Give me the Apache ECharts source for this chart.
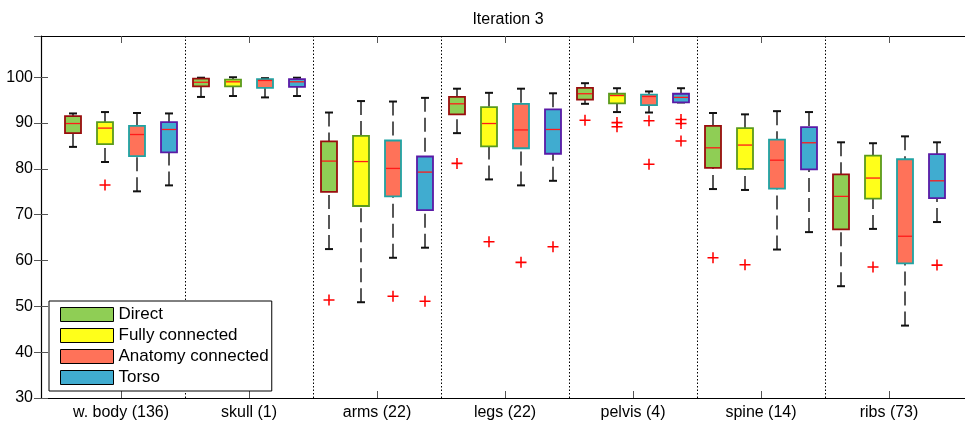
<!DOCTYPE html>
<html>
<head>
<meta charset="utf-8">
<script src="https://cdn.jsdelivr.net/npm/echarts@6/dist/echarts.min.js"></script>
<style>html,body{margin:0;padding:0;background:#fff}#c{width:965px;height:423px}</style>
</head>
<body>
<div id="c"></div>
<script>
const groups = ['w. body (136)', 'skull (1)', 'arms (22)', 'legs (22)', 'pelvis (4)', 'spine (14)', 'ribs (73)'];
const methods = ['Direct', 'Fully connected', 'Anatomy connected', 'Torso'];
const yTicks = { min: 30, max: 109, step: 10 };

// [lower whisker, Q1, median, Q3, upper whisker] per group
const directStats = [
  [84.8, 87.8, 89.9, 91.5, 92.1],
  [95.7, 98.0, 98.9, 99.7, 99.9],
  [62.5, 75.0, 81.7, 86.0, 92.3],
  [87.8, 91.9, 94.2, 95.7, 97.5],
  [94.2, 95.1, 96.4, 97.7, 98.7],
  [75.6, 80.2, 84.6, 89.4, 92.2],
  [54.4, 66.8, 74.0, 78.8, 85.8]
];
const fullyStats = [
  [81.5, 85.4, 88.9, 90.2, 92.4],
  [95.9, 98.0, 99.0, 99.5, 100.0],
  [50.9, 71.9, 81.6, 87.2, 94.8],
  [77.7, 84.9, 89.9, 93.5, 96.6],
  [92.4, 94.3, 96.0, 96.4, 97.6],
  [75.4, 80.0, 85.2, 88.9, 91.9],
  [66.9, 73.5, 78.0, 82.9, 85.6]
];
const anatomyStats = [
  [75.1, 82.8, 87.5, 89.4, 92.2],
  [95.6, 97.7, 99.3, 99.6, 99.8],
  [60.6, 74.0, 80.1, 86.2, 94.7],
  [76.4, 84.5, 88.5, 94.2, 97.5],
  [92.3, 93.9, 95.8, 96.2, 96.9],
  [62.4, 75.7, 81.9, 86.4, 92.6],
  [45.8, 59.4, 65.3, 82.1, 87.1]
];
const torsoStats = [
  [76.4, 83.6, 88.6, 90.2, 92.1],
  [95.9, 97.9, 99.0, 99.6, 99.9],
  [62.8, 71.0, 79.3, 82.7, 95.5],
  [77.4, 83.3, 88.6, 93.0, 96.5],
  [94.5, 94.5, 95.6, 96.4, 97.6],
  [66.2, 79.9, 85.7, 89.1, 92.4],
  [68.4, 73.6, 77.4, 83.2, 85.8]
];

// outliers: [group index, value]
const directOut = [[2, 51.4], [3, 81.2], [4, 90.6], [5, 60.6]];
const fullyOut = [[0, 76.5], [3, 64.1], [4, 90.1], [4, 89.2], [5, 59.1], [6, 58.6]];
const anatomyOut = [[2, 52.2], [3, 59.6], [4, 90.5], [4, 81.0]];
const torsoOut = [[2, 51.1], [3, 63.0], [4, 90.8], [4, 89.9], [4, 86.1], [6, 59.0]];

const fills = ['#8fce55', '#ffff1a', '#ff7259', '#40acd0'];
const borders = ['#990d0d', '#5a9a1c', '#1fa3a3', '#5a1aa6'];

const allStats = [directStats, fullyStats, anatomyStats, torsoStats];
const allOut = [directOut, fullyOut, anatomyOut, torsoOut];
const perGroup = methods.length;
const pos = (g, m) => 1 + perGroup * g + m;

function makeRender(m) {
  return function (params, api) {
    const x = api.value(0);
    const c = v => api.coord([x, v]);
    const cx = c(api.value(1))[0];
    const yLo = c(api.value(1))[1], yQ1 = c(api.value(2))[1], yMd = c(api.value(3))[1],
          yQ3 = c(api.value(4))[1], yHi = c(api.value(5))[1];
    const hw = api.size([1, 0])[0] * 0.25;
    const dash = { stroke: '#111', lineWidth: 1.4, lineDash: [14, 6] };
    const cap = { stroke: '#111', lineWidth: 2 };
    return {
      type: 'group',
      children: [
        { type: 'line', shape: { x1: cx, y1: yHi, x2: cx, y2: yQ3 }, style: dash },
        { type: 'line', shape: { x1: cx, y1: yLo, x2: cx, y2: yQ1 }, style: dash },
        { type: 'line', shape: { x1: cx - hw / 2, y1: yHi, x2: cx + hw / 2, y2: yHi }, style: cap },
        { type: 'line', shape: { x1: cx - hw / 2, y1: yLo, x2: cx + hw / 2, y2: yLo }, style: cap },
        { type: 'rect', shape: { x: cx - hw, y: yQ3, width: 2 * hw, height: yQ1 - yQ3 },
          style: { fill: fills[m], stroke: borders[m], lineWidth: 1.8 } },
        { type: 'line', shape: { x1: cx - hw + 1, y1: yMd, x2: cx + hw - 1, y2: yMd },
          style: { stroke: '#ff1a1a', lineWidth: 1.3 } }
      ]
    };
  };
}

const series = [];
methods.forEach((name, m) => {
  const s = {
    name: name,
    type: 'custom',
    xAxisIndex: 0, yAxisIndex: 0,
    itemStyle: { color: fills[m] },
    renderItem: makeRender(m),
    encode: { x: 0, y: [1, 2, 3, 4, 5] },
    data: allStats[m].map((st, g) => [pos(g, m)].concat(st)),
    z: 3
  };
  if (m === 0) {
    s.markLine = {
      silent: true, symbol: 'none', animation: false,
      label: { show: false },
      lineStyle: { color: '#000', width: 1, type: [1.5, 2] },
      data: groups.slice(1).map((_, i) => ({ xAxis: perGroup * (i + 1) + 0.5 }))
    };
  }
  series.push(s);
});
methods.forEach((name, m) => {
  series.push({
    name: name + ' outliers',
    type: 'scatter',
    xAxisIndex: 0, yAxisIndex: 0,
    symbol: 'path://M0,4.3H10V5.7H0ZM4.3,0H5.7V10H4.3Z',
    symbolSize: 11,
    itemStyle: { color: '#ff0000', opacity: 1 },
    data: allOut[m].map(o => [pos(o[0], m), o[1]]),
    z: 4
  });
});

const font = "'Liberation Sans', Arial, Helvetica, sans-serif";
const tickStyle = { color: '#555', width: 1 };
const frame = { show: true, lineStyle: { color: '#000', width: 1.2 } };

const option = {
  animation: false,
  backgroundColor: '#fff',
  textStyle: { fontFamily: font },
  title: {
    text: 'Iteration 3', left: 503, top: 7, textAlign: 'center',
    textStyle: { fontSize: 16, fontWeight: 'normal', color: '#000', fontFamily: font }
  },
  legend: {
    data: methods,
    orient: 'vertical', left: 49, top: 301,
    backgroundColor: '#fff', borderColor: '#000', borderWidth: 1,
    padding: [5, 3, 5, 11],
    itemWidth: 53, itemHeight: 14, itemGap: 4,
    icon: 'rect',
    itemStyle: { borderColor: '#000', borderWidth: 1 },
    textStyle: { fontSize: 17, color: '#000', fontFamily: font },
    z: 10
  },
  grid: [
    { left: 41, top: 36, width: 928, height: 362, outerBoundsMode: 'none', containLabel: false, show: false },
    { left: 57, top: 36, width: 896, height: 362, outerBoundsMode: 'none', containLabel: false, show: false }
  ],
  xAxis: [
    { gridIndex: 0, type: 'value', min: 0, max: 29, position: 'bottom',
      axisLine: frame, axisTick: { show: false }, axisLabel: { show: false }, splitLine: { show: false } },
    { gridIndex: 0, type: 'value', min: 0, max: 29, position: 'top',
      axisLine: frame, axisTick: { show: false }, axisLabel: { show: false }, splitLine: { show: false } },
    { gridIndex: 1, type: 'category', data: groups, position: 'bottom',
      axisLine: { show: false },
      axisTick: { show: true, inside: true, length: 7, alignWithLabel: true, interval: 0, lineStyle: tickStyle },
      axisLabel: { interval: 0, fontSize: 16, color: '#000', margin: 7, fontFamily: font },
      splitLine: { show: false } },
    { gridIndex: 1, type: 'category', data: groups, position: 'top',
      axisLine: { show: false },
      axisTick: { show: true, inside: true, length: 7, alignWithLabel: true, interval: 0, lineStyle: tickStyle },
      axisLabel: { show: false },
      splitLine: { show: false } }
  ],
  yAxis: [
    { gridIndex: 0, type: 'value', min: yTicks.min, max: yTicks.max, interval: yTicks.step, position: 'left',
      axisLine: frame,
      axisTick: { show: true, inside: true, length: 7, lineStyle: tickStyle },
      axisLabel: { fontSize: 16, color: '#000', margin: 8, showMaxLabel: false, fontFamily: font },
      splitLine: { show: false } },
    { gridIndex: 0, type: 'value', min: yTicks.min, max: yTicks.max, interval: yTicks.step, position: 'right',
      axisLine: { show: false },
      axisTick: { show: true, inside: true, length: 7, lineStyle: tickStyle },
      axisLabel: { show: false },
      splitLine: { show: false } },
    { gridIndex: 1, type: 'value', show: false, min: yTicks.min, max: yTicks.max }
  ],
  series: series
};

const chart = echarts.init(document.getElementById('c'), null, { renderer: 'canvas' });
chart.setOption(option);
</script>
</body>
</html>
